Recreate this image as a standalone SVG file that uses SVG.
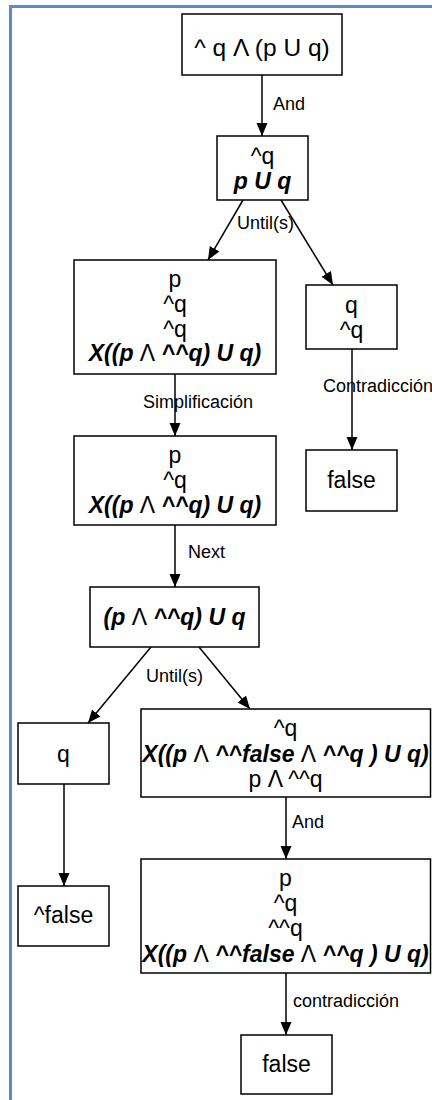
<svg xmlns="http://www.w3.org/2000/svg" width="432" height="1100" viewBox="0 0 432 1100">
<style>
.box{fill:#fff;stroke:#000;stroke-width:1.5}
.t{font-family:"Liberation Sans",Arial,sans-serif;font-size:23px;fill:#000;text-anchor:middle}
.b{font-weight:bold;font-style:italic}
.n{font-weight:normal;font-style:normal}
.lbl{font-family:"Liberation Sans",Arial,sans-serif;font-size:18px;fill:#000}
.edge{stroke:#000;stroke-width:1.5;fill:none;marker-end:url(#arr)}
</style>
<defs>
<marker id="arr" markerUnits="userSpaceOnUse" markerWidth="14" markerHeight="12" refX="13" refY="5.5" orient="auto">
<path d="M0,0 L13,5.5 L0,11 z" fill="#000"/>
</marker>
</defs>
<rect x="0" y="0" width="432" height="1100" fill="#fff"/>
<path d="M10.5,1100 V6.5 H432" fill="none" stroke="#5b8bc8" stroke-width="3"/>
<g id="connectors">
<line class="edge" x1="262" y1="75" x2="262" y2="136"/>
<text class="lbl" x="273" y="110">And</text>
<line class="edge" x1="243" y1="200" x2="208" y2="260"/>
<line class="edge" x1="281" y1="200" x2="333" y2="285"/>
<text class="lbl" x="237" y="229">Until(s)</text>
<line class="edge" x1="175" y1="374" x2="175" y2="436"/>
<text class="lbl" x="143" y="408">Simplificación</text>
<line class="edge" x1="352" y1="349" x2="352" y2="450"/>
<text class="lbl" x="323" y="392">Contradicción</text>
<line class="edge" x1="175" y1="525" x2="175" y2="587"/>
<text class="lbl" x="188" y="558">Next</text>
<line class="edge" x1="151" y1="647" x2="88" y2="723"/>
<line class="edge" x1="199" y1="647" x2="250" y2="709"/>
<text class="lbl" x="146" y="682">Until(s)</text>
<line class="edge" x1="64" y1="784" x2="64" y2="886"/>
<line class="edge" x1="286" y1="797" x2="286" y2="859"/>
<text class="lbl" x="292" y="828">And</text>
<line class="edge" x1="286" y1="973" x2="286" y2="1035"/>
<text class="lbl" x="293" y="1007">contradicción</text>
</g>
<g id="n1">
<rect class="box" x="182" y="14" width="160" height="61"/>
<text class="t" x="262" y="56" style="font-size:24.5px">^ q Λ (p U q)</text>
</g>
<g id="n2">
<rect class="box" x="217" y="136" width="91" height="64"/>
<text class="t" x="262.5" y="163.5">^q</text>
<text class="t b" x="262.5" y="188.5">p U q</text>
</g>
<g id="n3">
<rect class="box" x="74" y="260" width="202" height="114"/>
<text class="t" x="175" y="287">p</text>
<text class="t" x="175" y="312">^q</text>
<text class="t" x="175" y="337">^q</text>
<text class="t b" x="175" y="361">X((p <tspan class="n">Λ</tspan> ^^q) U q)</text>
</g>
<g id="n4">
<rect class="box" x="306" y="285" width="91" height="64"/>
<text class="t" x="351.5" y="313">q</text>
<text class="t" x="351.5" y="338">^q</text>
</g>
<g id="n5">
<rect class="box" x="74" y="436" width="202" height="89"/>
<text class="t" x="175" y="462.5">p</text>
<text class="t" x="175" y="487.5">^q</text>
<text class="t b" x="175" y="512.5">X((p <tspan class="n">Λ</tspan> ^^q) U q)</text>
</g>
<g id="n6">
<rect class="box" x="306" y="450" width="91" height="61"/>
<text class="t" x="351.5" y="487.5">false</text>
</g>
<g id="n7">
<rect class="box" x="90" y="587" width="169" height="60"/>
<text class="t b" x="174.5" y="625">(p <tspan class="n">Λ</tspan> ^^q) U q</text>
</g>
<g id="n8">
<rect class="box" x="18" y="723" width="91" height="61"/>
<text class="t" x="63.5" y="761.5">q</text>
</g>
<g id="n9">
<rect class="box" x="141" y="709" width="289.5" height="88"/>
<text class="t" x="285.5" y="735.5">^q</text>
<text class="t b" x="285.5" y="761.5">X((p <tspan class="n">Λ</tspan> ^^false <tspan class="n">Λ</tspan> ^^q ) U q)</text>
<text class="t" x="285.5" y="786.5">p Λ ^^q</text>
</g>
<g id="n10">
<rect class="box" x="18" y="886" width="91" height="60"/>
<text class="t" x="63.5" y="923">^false</text>
</g>
<g id="n11">
<rect class="box" x="141" y="859" width="289.5" height="114"/>
<text class="t" x="285.5" y="886">p</text>
<text class="t" x="285.5" y="911">^q</text>
<text class="t" x="285.5" y="936">^^q</text>
<text class="t b" x="285.5" y="962">X((p <tspan class="n">Λ</tspan> ^^false <tspan class="n">Λ</tspan> ^^q ) U q)</text>
</g>
<g id="n12">
<rect class="box" x="241" y="1035" width="91" height="59"/>
<text class="t" x="286.5" y="1072">false</text>
</g>
</svg>
